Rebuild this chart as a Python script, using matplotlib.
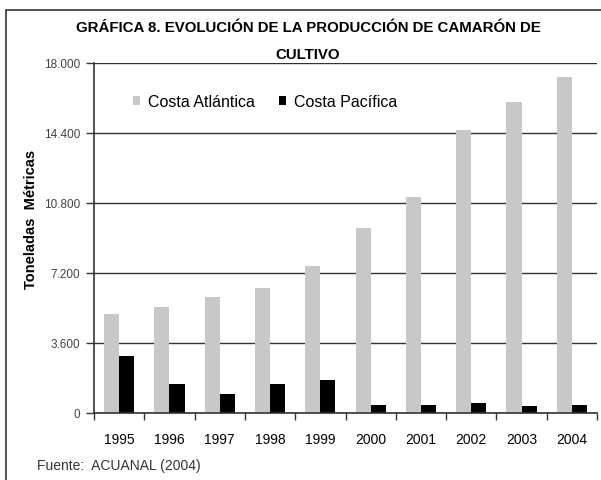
"""
grafica 8: produccion de camaron de cultivo
"""

import matplotlib
matplotlib.use("Agg")
import matplotlib.pyplot as plt
import matplotlib.patches as mpatches
import numpy as np

years = ["1995", "1996", "1997", "1998", "1999", "2000", "2001", "2002", "2003", "2004"]
atlantica = [5090, 5470, 5960, 6420, 7570, 9530, 11110, 14570, 15980, 17290]
pacifica = [2910, 1510, 980, 1510, 1700, 410, 410, 510, 340, 410]
yticks = [0, 3600, 7200, 10800, 14400, 18000]
ytick_labels = ["0", "3.600", "7.200", "10.800", "14.400", "18.000"]

plt.rcParams["font.family"] = ["Liberation Sans", "DejaVu Sans"]

fig = plt.figure(figsize=(6.01, 4.81), dpi=100)

# outer frame (cut at the right and bottom like the scan)
fig.patches.append(mpatches.Rectangle((6 / 601, -0.05), 1.0, 1 - 11 / 481 + 0.05,
                                      transform=fig.transFigure, fill=False,
                                      edgecolor="#333333", linewidth=1.2))

ax = fig.add_axes([94 / 601, 67 / 481, 503 / 601, 350 / 481])
x = np.arange(len(years))
w = 0.3
ax.bar(x - w / 2, atlantica, w, color="#c8c8c8", label="Costa Atlántica", zorder=2)
ax.bar(x + w / 2, pacifica, w, color="black", label="Costa Pacífica", zorder=2)

ax.set_xlim(-0.5, len(years) - 0.5)
ax.set_ylim(0, 18000)
ax.set_yticks(yticks)
ax.set_yticklabels(ytick_labels, fontsize=8.5, color="#444444")
ax.yaxis.grid(True, color="#333333", linewidth=1.0, zorder=1)

ax.set_xticks(x)
ax.set_xticklabels(years, fontsize=10)
ax.set_xticks(np.arange(-0.5, len(years), 1), minor=True)
ax.tick_params(axis="x", which="major", length=0, pad=14)
ax.tick_params(axis="x", which="minor", length=5, width=1, color="#333333")
ax.tick_params(axis="y", length=6, width=1, color="#333333", pad=4)

for s in ["top", "right"]:
    ax.spines[s].set_visible(False)
for s in ["left", "bottom"]:
    ax.spines[s].set_color("#333333")
    ax.spines[s].set_linewidth(1.2)

fig.text(31 / 601, 1 - 219 / 481, "Toneladas  Métricas", rotation=90,
         ha="center", va="center", fontsize=10.5, fontweight="bold")

ax.legend(loc="center left", bbox_to_anchor=(0.077, 0.889), ncol=2, frameon=False,
          fontsize=11.5, handlelength=0.45, handleheight=0.45, handletextpad=0.5,
          columnspacing=1.5, borderpad=0, borderaxespad=0)

fig.text(308 / 601, 1 - 28 / 481, "GRÁFICA 8. EVOLUCIÓN DE LA PRODUCCIÓN DE CAMARÓN DE",
         ha="center", va="center", fontsize=10.8, fontweight="bold")
fig.text(308 / 601, 1 - 55 / 481, "CULTIVO", ha="center", va="center",
         fontsize=10.8, fontweight="bold")

fig.text(37 / 601, 1 - 466 / 481, "Fuente:  ACUANAL (2004)", ha="left", va="center",
         fontsize=10, color="#333333")

fig.savefig("out.png", dpi=100)
